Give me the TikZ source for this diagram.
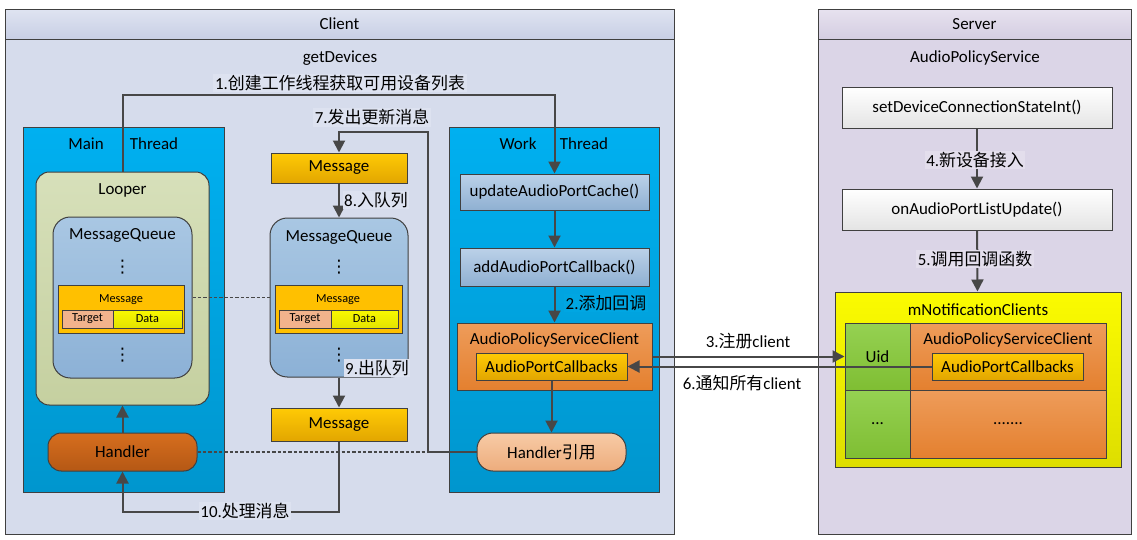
\documentclass[tikz,border=0pt]{standalone}
\usepackage{fontspec}
\setmainfont{Carlito}
\newfontfamily\cjk{Noto Sans CJK SC}
\newfontfamily\symfont{DejaVu Sans}
\newcommand\zh[1]{{\cjk #1}}
\usetikzlibrary{arrows.meta,fit}
\definecolor{edge}{HTML}{404040}
\definecolor{wire}{HTML}{474747}
\definecolor{cbody}{HTML}{D6DCEC}
\definecolor{clight}{HTML}{DDE2F0}
\definecolor{chtop}{HTML}{DFE4F1}
\definecolor{chbot}{HTML}{C8CFE5}
\definecolor{sbody}{HTML}{DBD5E7}
\definecolor{slight}{HTML}{E3DEEC}
\definecolor{shtop}{HTML}{E7E2EF}
\definecolor{shbot}{HTML}{D4CDE1}
\definecolor{thrtop}{HTML}{00B0F0}
\definecolor{thrbot}{HTML}{0096CE}
\definecolor{thrmid}{HTML}{00A6E2}
\definecolor{lptop}{HTML}{D7E0BA}
\definecolor{lpbot}{HTML}{C5D0A0}
\definecolor{mqtop}{HTML}{A9C7E3}
\definecolor{mqbot}{HTML}{8CB1D6}
\definecolor{msgtop}{HTML}{FFCA05}
\definecolor{msgbot}{HTML}{E2A600}
\definecolor{msgflat}{HTML}{FFC000}
\definecolor{tgt}{HTML}{F2B38C}
\definecolor{datatop}{HTML}{F8F800}
\definecolor{databot}{HTML}{E4E400}
\definecolor{hdtop}{HTML}{D66E1E}
\definecolor{hdbot}{HTML}{B55815}
\definecolor{hrtop}{HTML}{F7CBA6}
\definecolor{hrbot}{HTML}{EDAC7C}
\definecolor{fntop}{HTML}{BBD1E8}
\definecolor{fnbot}{HTML}{8FB0D2}
\definecolor{ortop}{HTML}{EE9C5A}
\definecolor{orbot}{HTML}{E4802F}
\definecolor{ncltop}{HTML}{FBFB00}
\definecolor{nclbot}{HTML}{DEDE00}
\definecolor{uidtop}{HTML}{95D152}
\definecolor{uidbot}{HTML}{7FBE33}
\definecolor{wtop}{HTML}{FFFFFF}
\definecolor{wbot}{HTML}{E4E4E4}

\begin{document}
\begin{tikzpicture}[x=0.75pt,y=-0.75pt,font=\fontsize{12.7}{15}\selectfont,
  box/.style={draw=edge,line width=0.75pt,inner sep=0pt},
  grad/.style 2 args={top color=#1,bottom color=#2},
  smalltext/.style={font=\fontsize{9.2}{11}\selectfont},
  dotstext/.style={inner sep=0pt,font=\symfont\fontsize{13}{14}\selectfont},
  flow/.style={draw=wire,line width=1.5pt,-{Triangle[length=9pt,width=9pt]}},
  dashlink/.style={draw=wire,line width=1.4pt,dash pattern=on 2.5pt off 1.5pt},
  lbl/.style={inner sep=1.2pt}]
\useasboundingbox (0,0) rectangle (1137,539);

\node[box,fill=cbody,fit={(5,9)(674,534)}] (client) {};
\node[box,grad={chtop}{chbot},fit={(5,9)(674,39)},label=center:Client] (clienthead) {};
\node (getdev) at (340,58) {getDevices};
\node[box,fill=sbody,fit={(818,9)(1131,534)}] (server) {};
\node[box,grad={shtop}{shbot},fit={(818,9)(1131,39)},label=center:Server] (serverhead) {};
\node (aps) at (975,58) {AudioPolicyService};

\node[box,grad={thrtop}{thrbot},fit={(23,127)(224,492)}] (mainthr) {};
\node (mainlbl) at (86,144) {Main};
\node (mainthrlbl) at (154,144) {Thread};
\node[box,rounded corners=10pt,grad={lptop}{lpbot},fit={(36,172)(209,405)}] (looper) {};
\node (looperlbl) at (122.5,190) {Looper};
\node[box,rounded corners=13pt,grad={mqtop}{mqbot},fit={(53,217)(192,378)}] (mq1) {};
\node (mq1lbl) at (122.5,235) {MessageQueue};
\node[dotstext] (mq1dota) at (122.5,267) {⋮};
\node[dotstext] (mq1dotb) at (122.5,355) {⋮};
\node[box,fill=msgflat,fit={(58,285)(184,333)}] (msg1) {};
\node[smalltext] (msg1lbl) at (121,300) {Message};
\node[box,fill=tgt,fit={(62,310)(113,328)},label={[smalltext]center:Target}] (tgt1) {};
\node[box,grad={datatop}{databot},fit={(113,310)(182,328)},label={[smalltext]center:Data}] (data1) {};
\node[box,rounded corners=10pt,grad={hdtop}{hdbot},fit={(48,433)(197,471)},label=center:Handler] (handler) {};

\node[box,grad={msgtop}{msgbot},fit={(271,153)(407,183)},label=center:Message] (msgtop) {};
\node[box,rounded corners=13pt,grad={mqtop}{mqbot},fit={(270,218)(408,377)}] (mq2) {};
\node (mq2lbl) at (339,237) {MessageQueue};
\node[dotstext] (mq2dota) at (339,267) {⋮};
\node[dotstext] (mq2dotb) at (339,355) {⋮};
\node[box,fill=msgflat,fit={(275,285)(402,333)}] (msg2) {};
\node[smalltext] (msg2lbl) at (338,300) {Message};
\node[box,fill=tgt,fit={(279,310)(331,328)},label={[smalltext]center:Target}] (tgt2) {};
\node[box,grad={datatop}{databot},fit={(331,310)(398,328)},label={[smalltext]center:Data}] (data2) {};
\node[box,grad={msgtop}{msgbot},fit={(271,408)(407,441)},label=center:Message] (msgbot) {};

\node[box,grad={thrtop}{thrbot},fit={(449,127)(659,492)}] (workthr) {};
\node (worklbl) at (518,144) {Work};
\node (workthrlbl) at (584,144) {Thread};
\node[box,grad={fntop}{fnbot},fit={(460,174)(649,210)},label=center:updateAudioPortCache()] (upd) {};
\node[box,grad={fntop}{fnbot},fit={(460,248)(649,286)},label=center:addAudioPortCallback()] (add) {};
\node[box,grad={ortop}{orbot},fit={(457,323)(652,390)}] (apsc) {};
\node (apsclbl) at (554.5,340) {AudioPolicyServiceClient};
\node[box,grad={msgtop}{msgbot},fit={(476,353)(627,380)},label=center:AudioPortCallbacks] (apcb) {};
\node[box,rounded corners=12pt,grad={hrtop}{hrbot},fit={(477,433)(626,471)},label={center:Handler\zh{引用}}] (href) {};

\node[box,grad={wtop}{wbot},fit={(842,87)(1112,128)},label=center:setDeviceConnectionStateInt()] (setdev) {};
\node[box,grad={wtop}{wbot},fit={(842,189)(1112,230)},label=center:onAudioPortListUpdate()] (onapl) {};
\node[box,grad={ncltop}{nclbot},fit={(835,292)(1121,467)}] (ncl) {};
\node (ncllbl) at (978,310) {mNotificationClients};
\node[box,grad={uidtop}{uidbot},fit={(845,323)(910,390)},label=center:Uid] (uid) {};
\node[box,grad={ortop}{orbot},fit={(910,323)(1106,390)}] (apsc2) {};
\node (apsc2lbl) at (1008,340) {AudioPolicyServiceClient};
\node[box,grad={msgtop}{msgbot},fit={(932,353)(1083,380)},label=center:AudioPortCallbacks] (apcb2) {};
\node[box,grad={uidtop}{uidbot},fit={(845,390)(910,458)},label=center:...] (uidmore) {};
\node[box,grad={ortop}{orbot},fit={(910,390)(1106,458)},label=center:.......] (apscmore) {};

\coordinate (c1) at (122.5,95);
\coordinate (c7) at (428,132);
\coordinate (c10) at (122.5,512);
\draw[dashlink] (mq1) -- (mq2);
\draw[dashlink] (handler) -- (href);
\draw[flow] (looper.north) -- (c1) -| (upd.north);
\draw[flow] (upd) -- (add);
\draw[flow] (add) -- (apsc);
\draw[flow] (apsc.east) -- (apsc.east -| uid.west);
\draw[flow] (apcb2.west) -- (apcb.east);
\draw[flow] (apcb) -- (href);
\draw[flow] (href.west) -| (c7) -| (msgtop.north);
\draw[flow] (msgtop) -- (mq2);
\draw[flow] (mq2) -- (msgbot);
\draw[flow] (msgbot.south) |- (c10) -- (handler.south);
\draw[flow] (handler) -- (looper);
\draw[flow] (setdev) -- (onapl);
\draw[flow] (onapl) -- (ncl);

\node[lbl,fill=clight] (step1) at (340,83) {1.\zh{创建工作线程获取可用设备列表}};
\node[lbl,fill=thrmid] (step2) at (606,303) {2.\zh{添加回调}};
\node[lbl,fill=white] (step3) at (748,341) {3.\zh{注册}client};
\node[lbl,fill=slight] (step4) at (975,160) {4.\zh{新设备接入}};
\node[lbl,fill=slight] (step5) at (975,259) {5.\zh{调用回调函数}};
\node[lbl,fill=white] (step6) at (742,383) {6.\zh{通知所有}client};
\node[lbl,fill=clight] (step7) at (372,117) {7.\zh{发出更新消息}};
\node[lbl,fill=clight] (step8) at (376,200) {8.\zh{入队列}};
\node[lbl,fill=clight] (step9) at (377,368) {9.\zh{出队列}};
\node[lbl,fill=clight] (step10) at (245,511) {10.\zh{处理消息}};
\end{tikzpicture}
\end{document}
